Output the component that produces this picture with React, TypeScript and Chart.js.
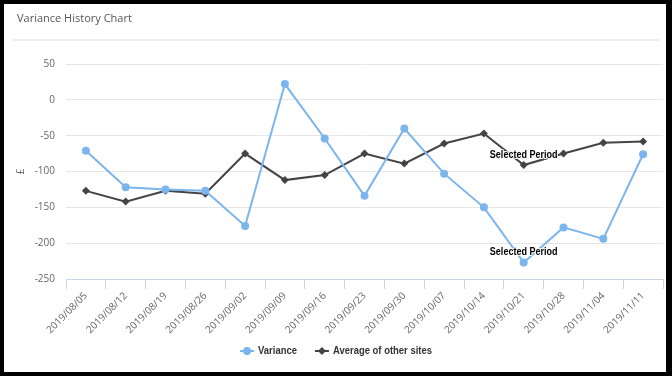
import React, { useEffect, useRef } from "react";
import { Chart, registerables } from "chart.js";

Chart.register(...registerables);

const chartTitle = "Variance History Chart";
const yAxisTitle = "£";
const categories = [
  "2019/08/05", "2019/08/12", "2019/08/19", "2019/08/26", "2019/09/02",
  "2019/09/09", "2019/09/16", "2019/09/23", "2019/09/30", "2019/10/07",
  "2019/10/14", "2019/10/21", "2019/10/28", "2019/11/04", "2019/11/11",
];
const varianceValues = [-71, -122, -125, -127, -176, 22, -54, -134, -40, -103, -150, -227, -178, -194, -76];
const averageValues = [-127, -142, -127, -131, -75, -112, -105, -75, -89, -61, -47, -91, -75, -60, -58];
const yTicks = [50, 0, -50, -100, -150, -200, -250];
const seriesNames = ["Variance", "Average of other sites"];
const seriesColors = ["#7cb5ec", "#434348"];
const selectedIndex = 11;
const selectedLabel = "Selected Period";

const NARROW = "'Liberation Sans', sans-serif";
const BASE = "'Open Sans', 'Liberation Sans', sans-serif";
const SQUEEZE = 0.86;

const decorPlugin = {
  id: "decor",
  beforeDraw(chart: any) {
    const ctx = chart.ctx;
    ctx.save();
    ctx.fillStyle = "#ffffff";
    ctx.fillRect(0, 0, chart.width, chart.height);
    ctx.fillStyle = "#555555";
    ctx.font = `11px ${BASE}`;
    ctx.textAlign = "left";
    ctx.textBaseline = "middle";
    ctx.fillText(chartTitle, 17, 19);
    ctx.strokeStyle = "#eeeeee";
    ctx.lineWidth = 2;
    ctx.beginPath();
    ctx.moveTo(13, 40);
    ctx.lineTo(659, 40);
    ctx.stroke();
    ctx.restore();
  },
  afterDatasetsDraw(chart: any) {
    const ctx = chart.ctx;
    ctx.save();
    ctx.font = `bold 10.5px ${NARROW}`;
    ctx.textAlign = "center";
    ctx.textBaseline = "middle";
    chart.data.datasets.forEach((_: any, di: number) => {
      const el = chart.getDatasetMeta(di).data[selectedIndex];
      if (!el) return;
      ctx.save();
      ctx.translate(el.x, el.y - 10);
      ctx.scale(SQUEEZE, 1);
      ctx.lineJoin = "round";
      ctx.strokeStyle = "#ffffff";
      ctx.lineWidth = 2;
      ctx.strokeText(selectedLabel, 0, 0);
      ctx.fillStyle = "#000000";
      ctx.fillText(selectedLabel, 0, 0);
      ctx.restore();
    });
    // legend
    const y = 351;
    ctx.font = `bold 11px ${NARROW}`;
    ctx.textAlign = "left";
    const w0 = ctx.measureText(seriesNames[0]).width * SQUEEZE;
    const w1 = ctx.measureText(seriesNames[1]).width * SQUEEZE;
    const sym = 14, gap = 4, between = 18;
    const total = sym + gap + w0 + between + sym + gap + w1;
    let x = (chart.width - total) / 2;
    const drawItem = (i: number, w: number) => {
      ctx.strokeStyle = seriesColors[i];
      ctx.lineWidth = 2;
      ctx.beginPath();
      ctx.moveTo(x, y);
      ctx.lineTo(x + sym, y);
      ctx.stroke();
      ctx.fillStyle = seriesColors[i];
      const cx = x + sym / 2;
      ctx.beginPath();
      if (i === 0) {
        ctx.arc(cx, y, 4, 0, Math.PI * 2);
      } else {
        ctx.moveTo(cx, y - 4);
        ctx.lineTo(cx + 4, y);
        ctx.lineTo(cx, y + 4);
        ctx.lineTo(cx - 4, y);
        ctx.closePath();
      }
      ctx.fill();
      ctx.fillStyle = "#333333";
      ctx.save();
      ctx.translate(x + sym + gap, y);
      ctx.scale(SQUEEZE, 1);
      ctx.fillText(seriesNames[i], 0, 0);
      ctx.restore();
      x += sym + gap + w + between;
    };
    drawItem(0, w0);
    drawItem(1, w1);
    ctx.restore();
  },
};

export default function App() {
  const ref = useRef<HTMLCanvasElement | null>(null);
  useEffect(() => {
    if (!ref.current) return;
    const chart = new Chart(ref.current, {
      type: "line",
      data: {
        labels: categories,
        datasets: [
          {
            label: seriesNames[0],
            data: varianceValues,
            borderColor: seriesColors[0],
            backgroundColor: seriesColors[0],
            borderWidth: 2,
            pointStyle: "circle",
            pointRadius: 4,
            pointBorderWidth: 0,
            tension: 0,
          },
          {
            label: seriesNames[1],
            data: averageValues,
            borderColor: seriesColors[1],
            backgroundColor: seriesColors[1],
            borderWidth: 2,
            pointStyle: "rectRot",
            pointRadius: 4,
            pointBorderWidth: 0,
            tension: 0,
          },
        ],
      },
      options: {
        animation: false,
        responsive: false,
        maintainAspectRatio: false,
        layout: { padding: { left: 4, right: 9, top: 64, bottom: 37 } },
        plugins: {
          legend: { display: false },
          title: { display: false },
          tooltip: { enabled: false },
        },
        scales: {
          x: {
            offset: true,
            grid: {
              offset: true,
              drawOnChartArea: false,
              drawTicks: true,
              tickLength: 10,
              color: "#ccd6eb",
            },
            border: { display: true, color: "#ccd6eb", width: 1 },
            ticks: {
              autoSkip: false,
              maxRotation: 45,
              minRotation: 45,
              padding: 1,
              color: "#666666",
              font: { family: BASE, size: 10 },
            },
            afterFit: (s: any) => {
              s.height = 60;
            },
          },
          y: {
            min: -250,
            max: 50,
            afterBuildTicks: (s: any) => {
              s.ticks = yTicks.map((v) => ({ value: v }));
            },
            grid: { color: "#e6e6e6", drawTicks: false, lineWidth: 1 },
            border: { display: false },
            ticks: {
              padding: 11,
              color: "#666666",
              font: { family: BASE, size: 10 },
            },
            title: {
              display: true,
              text: yAxisTitle,
              color: "#666666",
              font: { family: BASE, size: 10 },
              padding: { top: 11, bottom: 0 },
            },
            afterFit: (s: any) => {
              s.width = 62;
            },
          },
        },
      },
      plugins: [decorPlugin],
    });
    return () => chart.destroy();
  }, []);
  return (
    <div style={{ position: "fixed", left: 0, top: 0, width: 672, height: 376 }}>
      <canvas ref={ref} width={672} height={376} style={{ position: "absolute", left: 0, top: 0, width: 672, height: 376 }} />
      <div
        style={{
          position: "absolute",
          left: 0,
          top: 0,
          width: 672,
          height: 376,
          boxSizing: "border-box",
          borderStyle: "solid",
          borderColor: "#000",
          borderWidth: "4px 6px 4px 4px",
          pointerEvents: "none",
        }}
      />
    </div>
  );
}
